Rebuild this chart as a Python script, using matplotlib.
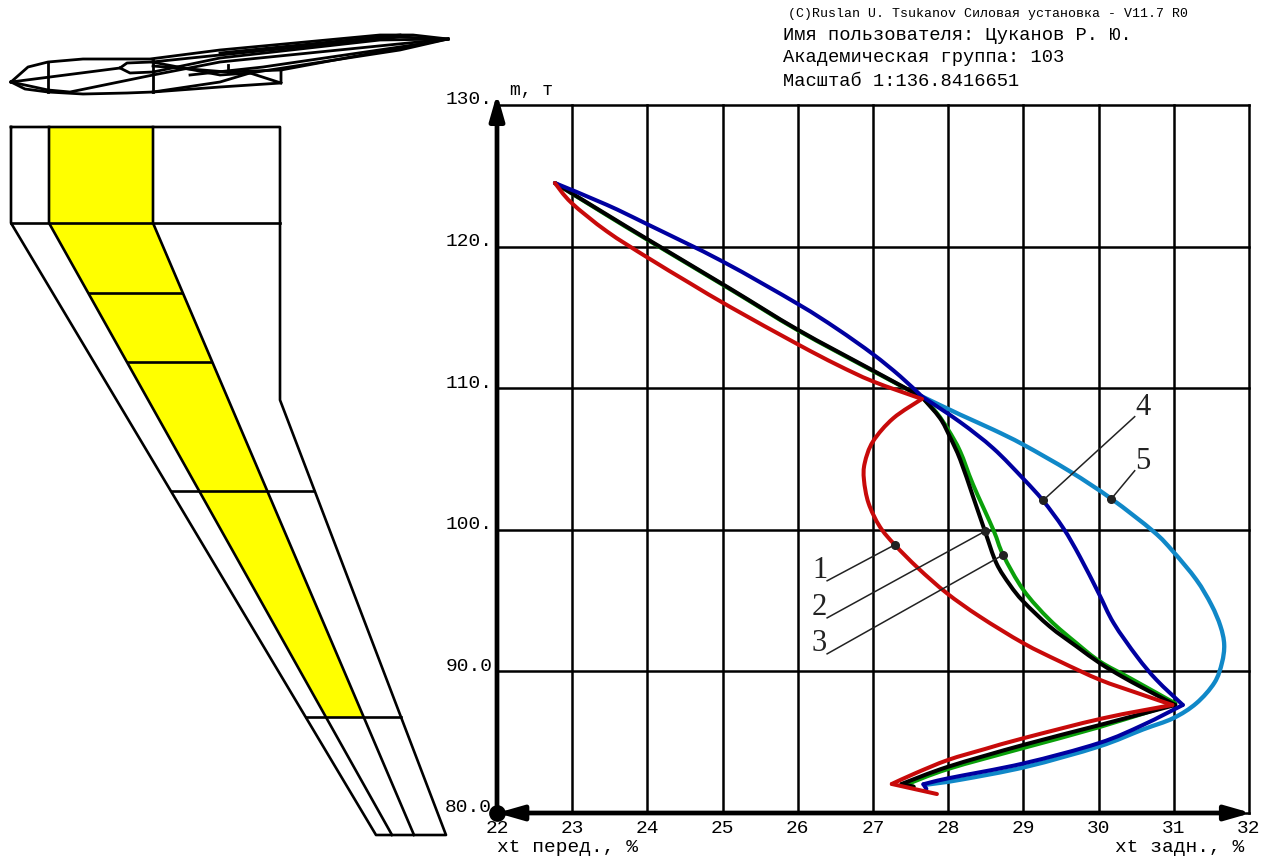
import matplotlib
matplotlib.use('Agg')
import matplotlib.pyplot as plt
from matplotlib.patches import PathPatch
from matplotlib.path import Path
from matplotlib.transforms import ScaledTranslation

plt.rcParams['font.family'] = ['Liberation Mono', 'DejaVu Sans Mono']

# xt, m. Every curve has several branches, split at its cusps
red_x = [[22.77, 22.99, 23.46, 24.01, 24.57, 25.10, 26.00, 26.52, 27.00, 27.65],
         [27.65, 27.27, 27.00, 26.89, 26.88, 26.94, 27.09, 27.29, 27.60, 27.98, 28.42, 29.00, 29.49, 30.02, 30.50, 30.98],
         [30.98, 30.06, 29.00, 28.49, 28.00, 27.56, 27.25],
         [27.25, 27.85]]
red_y = [[124.49, 123.09, 121.08, 119.20, 117.40, 115.74, 113.10, 111.66, 110.48, 109.24],
         [109.24, 107.88, 106.24, 104.71, 103.53, 101.89, 100.23, 98.94, 97.29, 95.53, 93.87, 91.99, 90.69, 89.40, 88.50, 87.63],
         [87.63, 86.69, 85.28, 84.52, 83.75, 82.80, 82.05],
         [82.05, 81.34]]

black_x = [[22.77, 23.46, 24.01, 25.10, 26.00, 27.00, 27.65],
           [27.65, 27.89, 28.02, 28.16, 28.33, 28.49, 28.64, 28.82, 29.00, 29.35, 29.71, 30.02, 30.32, 30.59, 31.02],
           [31.02, 30.02, 29.00, 28.00, 27.38],
           [27.38, 27.54]]
black_y = [[124.49, 122.26, 120.49, 117.03, 114.13, 111.25, 109.38],
           [109.38, 107.89, 106.59, 104.95, 102.35, 99.88, 97.65, 96.11, 94.93, 93.17, 91.75, 90.57, 89.61, 88.83, 87.63],
           [87.63, 86.22, 84.81, 83.27, 82.05],
           [82.05, 81.86]]

green_x = [[22.77, 23.46, 24.01, 25.10, 26.00, 27.00, 27.65],
           [27.65, 27.85, 28.00, 28.16, 28.33, 28.60, 28.73, 29.00, 29.35, 29.71, 30.02, 30.42, 31.02],
           [31.02, 30.02, 29.00, 28.00, 27.43],
           [27.43, 27.54]]
green_y = [[124.49, 122.22, 120.45, 116.99, 114.09, 111.21, 109.38],
           [109.38, 108.24, 107.07, 105.53, 103.20, 100.00, 98.23, 95.75, 93.64, 91.98, 90.69, 89.52, 87.74],
           [87.74, 86.08, 84.59, 83.11, 81.98],
           [81.98, 81.86]]

blue_x = [[22.77, 23.46, 24.01, 25.00, 26.00, 26.52, 27.00, 27.36, 27.65],
          [27.65, 28.16, 28.60, 29.00, 29.26, 29.53, 29.75, 30.00, 30.20, 30.51, 30.77, 31.12],
          [31.12, 30.59, 30.00, 29.00, 28.00, 27.67],
          [27.67, 27.71]]
blue_y = [[124.49, 122.95, 121.55, 118.95, 115.95, 114.20, 112.40, 110.85, 109.42],
          [109.42, 107.60, 105.75, 103.60, 102.07, 100.12, 98.11, 95.53, 93.41, 91.05, 89.40, 87.63],
          [87.63, 86.22, 84.93, 83.50, 82.45, 82.03],
          [82.03, 81.70]]

cyan_x = [[27.65, 28.16, 28.60, 29.00, 29.62, 30.17, 30.73, 30.99, 31.30, 31.50, 31.62, 31.67, 31.64, 31.54, 31.30,
           30.99, 30.59, 30.00, 29.04, 28.16, 27.71]]
cyan_y = [[109.42, 108.13, 107.07, 106.01, 104.12, 102.19, 99.88, 98.47, 96.47, 94.70, 93.20, 91.90, 90.60, 89.20, 87.75,
           86.69, 85.90, 84.69, 83.27, 82.35, 82.00]]

x_ticks = [22, 23, 24, 25, 26, 27, 28, 29, 30, 31, 32]
y_ticks = [80, 90, 100, 110, 120, 130]
y_labels = ['80.0', '90.0', '100.', '110.', '120.', '130.']

# numbered callouts
callout_names = ['1', '2', '3', '4', '5']
dot_x = [27.29, 28.49, 28.73, 29.26, 30.17]
dot_y = [98.94, 99.90, 98.23, 102.07, 102.19]
leader_x = [26.39, 26.39, 26.39, 30.48, 30.48]
leader_y = [96.40, 93.78, 91.24, 107.99, 104.17]
name_x = [26.29, 26.29, 26.28, 30.59, 30.59]
name_y = [97.10, 94.49, 91.94, 108.62, 104.81]

header_lines = ['(C)Ruslan U. Tsukanov Силовая установка - V11.7 R0',
                'Имя пользователя: Цуканов Р. Ю.',
                'Академическая группа: 103',
                'Масштаб 1:136.8416651']

# wing planform, figure pixels
spar_fill = [(49, 127), (153, 127), (153, 223), (363, 717), (327, 717), (49, 223)]
plan_lines = [
    [(11, 127), (280, 127), (280, 400), (446, 835), (376, 835), (11, 223), (11, 127)],
    [(11, 223), (280, 223)],
    [(49, 127), (49, 223), (392, 835)],
    [(153, 127), (153, 223), (414, 835)],
    [(89, 293), (182, 293)],
    [(128, 362), (211, 362)],
    [(172, 491), (314, 491)],
    [(306, 717), (401, 717)],
]

# wireframe side view, figure pixels
side_lines = [
    [(11, 82), (28, 67), (48, 62), (83, 59), (150, 59), (220, 50), (380, 35), (413, 35), (448, 39)],
    [(11, 82), (25, 89), (48, 92), (83, 94), (127, 93), (153, 92), (220, 87), (281, 83), (281, 70), (448, 39)],
    [(11, 82), (120, 68), (127, 63), (152, 62), (220, 55), (400, 37), (448, 39)],
    [(11, 82), (48, 90), (70, 92), (153, 75), (220, 62), (448, 39)],
    [(120, 68), (130, 73), (153, 72), (220, 58), (380, 40), (448, 39)],
    [(48, 62), (48, 92)],
    [(153, 59), (153, 92)],
    [(228, 65), (228, 72)],
    [(153, 92), (220, 82), (250, 73), (400, 50), (448, 39)],
    [(250, 73), (281, 83)],
    [(152, 62), (220, 75), (250, 73)],
    [(153, 66), (227, 72), (281, 70)],
    [(190, 75), (263, 67), (420, 44)],
    [(220, 53), (300, 45), (400, 35)],
]


def smooth_path(xs, ys):
    # bezier through the read points, tangents from the neighbours
    pts = list(zip(xs, ys))
    verts = [pts[0]]
    codes = [Path.MOVETO]
    for i in range(len(pts) - 1):
        p0 = pts[max(i - 1, 0)]
        p1 = pts[i]
        p2 = pts[i + 1]
        p3 = pts[min(i + 2, len(pts) - 1)]
        c1 = (p1[0] + (p2[0] - p0[0]) / 6, p1[1] + (p2[1] - p0[1]) / 6)
        c2 = (p2[0] - (p3[0] - p1[0]) / 6, p2[1] - (p3[1] - p1[1]) / 6)
        verts += [c1, c2, p2]
        codes += [Path.CURVE4] * 3
    return Path(verts, codes)


def draw_curve(ax, branches_x, branches_y, color, lw):
    for xs, ys in zip(branches_x, branches_y):
        ax.add_patch(PathPatch(smooth_path(xs, ys), fill=False, edgecolor=color, lw=lw,
                               capstyle='round', joinstyle='round', clip_on=False))


fig = plt.figure(figsize=(12.62, 8.58), dpi=100)

# main chart
ax = fig.add_axes([497 / 1262, 1 - 813 / 858, 752 / 1262, 708 / 858])
ax.set_xlim(22, 32)
ax.set_ylim(80, 130)
ax.set_xticks(x_ticks)
ax.set_yticks(y_ticks)
ax.set_yticklabels(y_labels, fontsize=14, va='bottom')
ax.tick_params(length=0, pad=3.5)
ax.tick_params(axis='x', labelsize=14, pad=5)
ax.grid(True, color='black', lw=1.8)
for line in ax.get_xgridlines() + ax.get_ygridlines():
    line.set_clip_on(False)
for side in ax.spines.values():
    side.set_visible(False)
ax.set_axisbelow(True)

shift = ScaledTranslation(0, -3.5 / 100, fig.dpi_scale_trans)
for label in ax.get_yticklabels():
    label.set_transform(label.get_transform() + shift)

draw_curve(ax, cyan_x, cyan_y, '#1088c8', 3.1)
draw_curve(ax, green_x, green_y, '#0aa00a', 2.9)
draw_curve(ax, black_x, black_y, 'black', 2.9)
draw_curve(ax, blue_x, blue_y, '#0000a0', 2.9)
draw_curve(ax, red_x, red_y, '#c80a0a', 2.9)

for i in range(len(callout_names)):
    ax.plot([dot_x[i], leader_x[i]], [dot_y[i], leader_y[i]], color='#222222', lw=1.1)
    ax.text(name_x[i], name_y[i], callout_names[i], family='Liberation Serif', fontsize=22,
            ha='center', va='center', color='#222222')
ax.plot(dot_x, dot_y, 'o', color='#222222', ms=5.5, zorder=5)

# axes drawn as thick arrows
head = ',head_length=0.7,head_width=0.2'
ax.annotate('', xy=(32.03, 80), xytext=(22, 80), annotation_clip=False,
            arrowprops=dict(arrowstyle='<|-|>' + head, color='black', lw=3.4, mutation_scale=22,
                            shrinkA=0, shrinkB=0))
ax.annotate('', xy=(22, 130.8), xytext=(22, 80), annotation_clip=False,
            arrowprops=dict(arrowstyle='-|>' + head, color='black', lw=3.4, mutation_scale=22,
                            shrinkA=0, shrinkB=0))
ax.plot([22], [80], 'o', color='black', ms=11, clip_on=False, zorder=6)

ax.text(22.17, 130.45, 'm, т', fontsize=13, va='bottom')

# page level drawing, pixel coordinates
page = fig.add_axes([0, 0, 1, 1], facecolor='none')
page.set_xlim(0, 1262)
page.set_ylim(858, 0)
page.axis('off')

page.fill([p[0] for p in spar_fill], [p[1] for p in spar_fill], color='#ffff00', lw=0, zorder=1)
for seg in plan_lines:
    page.plot([p[0] for p in seg], [p[1] for p in seg], color='black', lw=1.9, zorder=2)
for seg in side_lines:
    page.plot([p[0] for p in seg], [p[1] for p in seg], color='black', lw=2.0, zorder=2)

page.text(788, 14, header_lines[0], fontsize=9.5, va='center')
page.text(783, 35, header_lines[1], fontsize=13.5, va='center')
page.text(783, 58, header_lines[2], fontsize=13.5, va='center')
page.text(783, 81, header_lines[3], fontsize=13.5, va='center')
page.text(497, 848, 'xt перед., %', fontsize=14, va='center')
page.text(1115, 848, 'xt задн., %', fontsize=14, va='center')

fig.savefig('out.png', dpi=100)
